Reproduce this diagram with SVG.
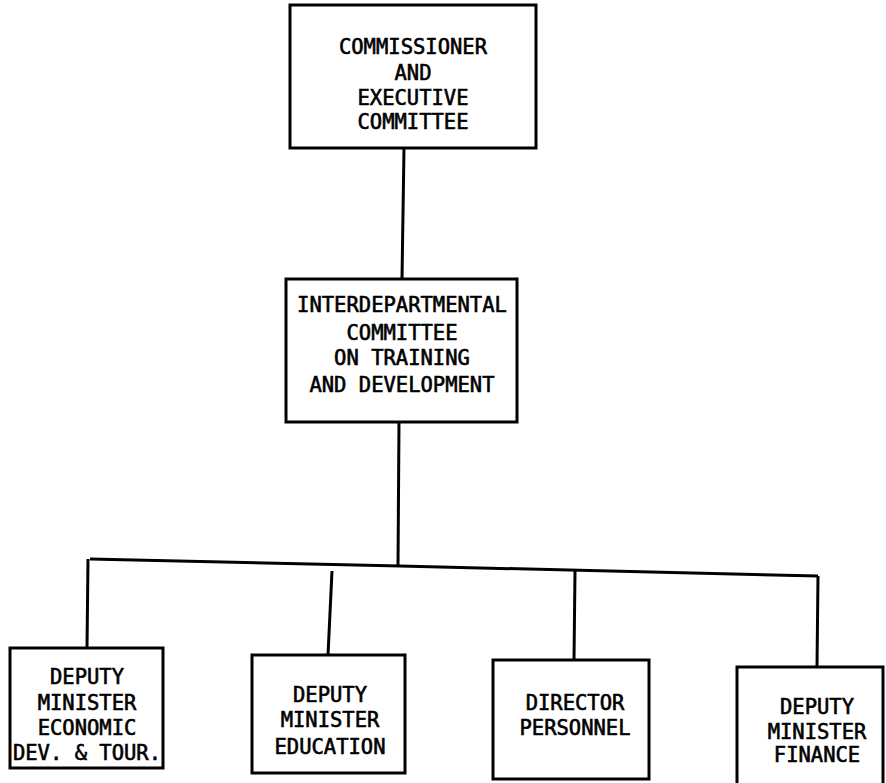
<svg xmlns="http://www.w3.org/2000/svg" width="886" height="783" viewBox="0 0 886 783">
<style>
.box{fill:#fff;stroke:#000;stroke-width:3}
.ln{fill:none;stroke:#000;stroke-width:3}
text{font-family:"DejaVu Sans Mono","Liberation Mono",monospace;font-size:20.5px;fill:#000;stroke:#000;stroke-width:0.6;text-anchor:middle;dominant-baseline:central}
</style>
<rect width="886" height="783" fill="#fff"/>
<g id="connectors">
<line class="ln" x1="404" y1="148" x2="402" y2="279"/>
<line class="ln" x1="399" y1="422" x2="398" y2="566"/>
<polyline class="ln" points="90,559 400,566 818,576"/>
<line class="ln" x1="88" y1="559" x2="87" y2="648"/>
<line class="ln" x1="332" y1="571" x2="328" y2="655"/>
<line class="ln" x1="575" y1="571" x2="574" y2="660"/>
<line class="ln" x1="818" y1="576" x2="817" y2="667"/>
</g>
<g id="n1">
<rect class="box" x="290" y="5" width="246" height="143"/>
<text x="413" y="47">COMMISSIONER</text>
<text x="413" y="73">AND</text>
<text x="413" y="98">EXECUTIVE</text>
<text x="413" y="122">COMMITTEE</text>
</g>
<g id="n2">
<rect class="box" x="286" y="279" width="231" height="143"/>
<text x="402" y="305">INTERDEPARTMENTAL</text>
<text x="402" y="333">COMMITTEE</text>
<text x="402" y="358">ON TRAINING</text>
<text x="402" y="385">AND DEVELOPMENT</text>
</g>
<g id="n3">
<rect class="box" x="10" y="648" width="153" height="120"/>
<text x="87" y="677">DEPUTY</text>
<text x="87" y="703">MINISTER</text>
<text x="87" y="728">ECONOMIC</text>
<text x="87" y="753">DEV. &amp; TOUR.</text>
</g>
<g id="n4">
<rect class="box" x="252" y="655" width="153" height="118"/>
<text x="330" y="695">DEPUTY</text>
<text x="330" y="720">MINISTER</text>
<text x="330" y="747">EDUCATION</text>
</g>
<g id="n5">
<rect class="box" x="493" y="660" width="156" height="119"/>
<text x="575" y="703">DIRECTOR</text>
<text x="575" y="728">PERSONNEL</text>
</g>
<g id="n6">
<rect class="box" x="737" y="667" width="146" height="122"/>
<text x="817" y="707">DEPUTY</text>
<text x="817" y="732">MINISTER</text>
<text x="817" y="755">FINANCE</text>
</g>
</svg>
